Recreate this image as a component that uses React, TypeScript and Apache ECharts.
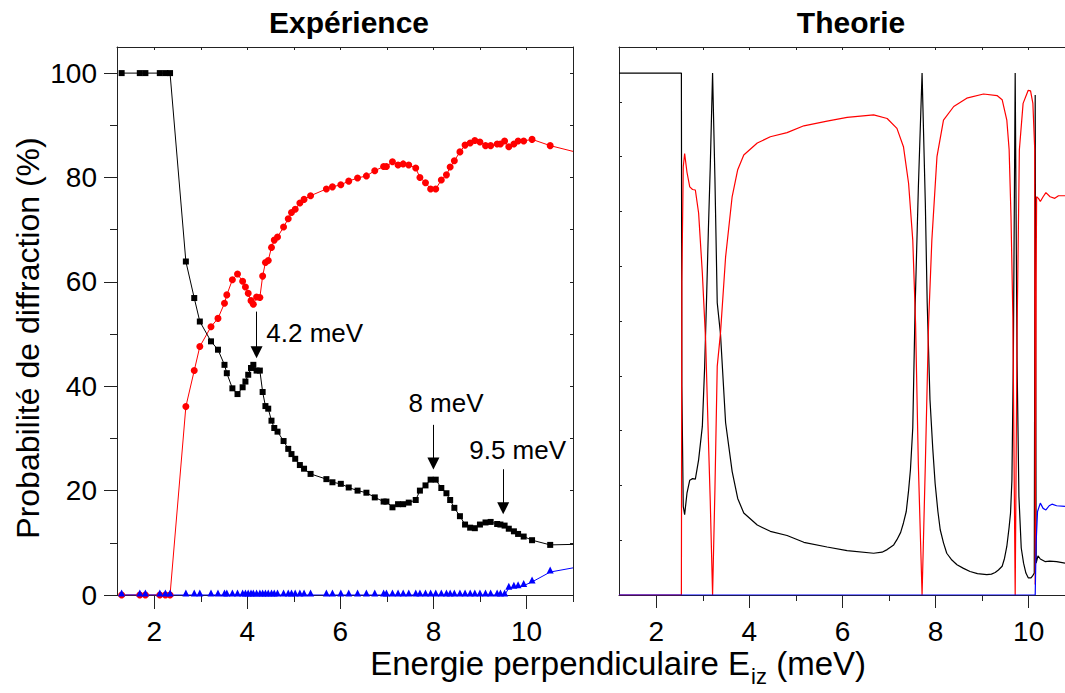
import React, { useEffect, useRef } from "react";
import * as echarts from "echarts";

// ---------- Experiment (left panel) ----------
const expX = [1.30,1.69,1.81,2.12,2.24,2.34,2.68,2.86,2.98,3.22,3.37,3.51,3.56,3.68,3.79,3.90,3.96,4.02,4.08,4.13,4.20,4.27,4.33,4.39,4.45,4.52,4.58,4.65,4.78,4.88,4.95,5.03,5.13,5.22,5.36,5.70,5.83,6.01,6.18,6.37,6.56,6.74,6.93,6.99,7.12,7.24,7.35,7.47,7.62,7.71,7.83,7.94,8.05,8.17,8.28,8.36,8.45,8.57,8.68,8.79,8.89,9.00,9.12,9.23,9.37,9.44,9.53,9.62,9.73,9.82,9.94,10.12,10.51];
const expSpecular = [100,100,100,100,100,100,63.9,56.9,52.4,48.6,47.0,44.1,42.5,39.6,38.5,39.8,40.9,42.2,43.5,44.1,43.0,43.0,38.9,36.2,35.7,33.4,32.0,31.3,29.5,28.0,27.0,26.1,24.9,24.2,23.2,22.2,21.6,21.3,20.6,20.0,19.6,18.7,17.9,17.9,16.8,17.4,17.4,17.7,18.2,20.0,21.0,22.1,22.1,20.5,19.5,18.2,16.7,15.1,13.5,12.9,12.8,13.5,13.9,14.0,13.6,13.5,13.3,12.7,12.2,11.7,11.2,10.5,9.6];
const expFirstOrder = [0,0,0,0,0,0,36.1,43.0,47.6,51.4,53.0,55.9,57.5,60.4,61.5,60.1,59.0,57.8,56.4,55.7,57.1,57.0,61.1,63.7,64.1,66.6,68.0,68.6,70.5,72.1,73.3,73.9,75.1,75.8,76.5,77.8,78.2,78.6,79.3,79.9,80.3,81.3,82.1,82.1,83.0,82.4,82.6,82.4,81.8,80.0,79.0,77.8,77.8,79.5,80.5,82.0,83.2,84.9,86.2,86.6,87.1,86.8,86.1,86.1,86.4,86.4,87.0,85.9,86.4,87.0,87.0,87.3,86.1];
const expSecondOrder = [0,0,0,0,0,0,0,0,0,0,0,0,0,0,0,0,0,0,0,0,0,0,0,0,0,0,0,0,0,0,0,0,0,0,0,0,0,0,0,0,0,0,0,0,0,0,0,0,0,0,0,0,0,0,0,0,0,0,0,0,0,0,0,0,0,0,0,1.3,1.5,1.6,1.8,2.5,4.4];
// line continuation to the right frame (no marker)
const expTailX = 11.0;
const expTailSpecular = 9.7;
const expTailFirst = 85.0;
const expTailSecond = 5.2;

// annotations (arrows) in data units
const arrowX = [4.2, 8.0, 9.5];
const arrowFrom = [54.3, 32.6, 24.1];
const arrowTo = [46.5, 25.2, 16.6];
const noteText = ["4.2 meV", "8 meV", "9.5 meV"];
const noteX = [5.45, 8.27, 9.81];
const noteY = [50.2, 36.8, 27.7];

// ---------- Theory (right panel) ----------
const thSpecX = [1.2,2.54,2.55,2.58,2.61,2.66,2.72,2.78,2.84,2.91,2.99,3.04,3.08,3.12,3.16,3.21,3.26,3.31,3.38,3.49,3.63,3.75,3.88,4.17,4.45,4.81,5.17,5.67,6.10,6.67,6.85,6.96,7.10,7.17,7.25,7.31,7.37,7.42,7.46,7.51,7.56,7.63,7.71,7.78,7.82,7.88,7.94,7.99,8.05,8.10,8.17,8.24,8.35,8.46,8.60,8.74,8.90,9.10,9.20,9.28,9.35,9.43,9.48,9.53,9.58,9.61,9.64,9.67,9.71,9.75,9.79,9.84,9.89,9.94,9.99,10.05,10.08,10.12,10.14,10.16,10.20,10.25,10.35,10.45,10.60,10.78];
const thSpecY = [100,100,40,17,15.4,19.5,22,22.3,22.2,25.9,32.3,43.8,56.5,70,82,100,80,56,50,33,23.7,18.5,15.7,13.4,12.2,11.4,10.1,9.2,8.5,8.0,8.2,8.7,9.6,10.6,12,13.8,16,20,24,32,55,78,100,75,56,37.4,28,21.4,16,12.5,10,8.0,6.7,5.8,5.1,4.5,4.1,3.9,4.0,4.3,4.8,5.5,7,9.3,13,15.7,22.1,45,100,45,18.9,9,6.1,4.2,3.3,3.3,3.6,4.2,95.8,6.1,7.5,6.9,6.4,6.5,6.4,6.1];
const thFirstX = [1.2,2.54,2.55,2.58,2.61,2.66,2.72,2.78,2.84,2.91,2.99,3.06,3.12,3.16,3.21,3.26,3.31,3.38,3.49,3.63,3.75,3.88,4.17,4.45,4.81,5.17,5.67,6.10,6.67,6.96,7.17,7.31,7.42,7.51,7.57,7.63,7.71,7.78,7.85,7.92,8.03,8.17,8.39,8.67,9.03,9.32,9.43,9.53,9.58,9.62,9.66,9.71,9.75,9.80,9.88,9.99,10.04,10.09,10.13,10.14,10.16,10.17,10.21,10.25,10.31,10.37,10.46,10.56,10.64,10.78];
const thFirstY = [0,0,60,82,84.6,81,78.2,77.7,77.6,73.2,61.7,48.9,30,18,0,20,43.8,50.2,64.8,76.3,81.5,84.3,86.6,87.8,88.6,89.9,90.8,91.5,92.0,91.3,89.4,85.9,78.9,68.0,52.1,25,0,25,52.1,68.0,84.0,91.0,93.6,95.2,96.0,95.7,94.9,91.0,85.3,72.5,53.4,0,50,85.3,94.2,96.7,96.6,94.2,85.3,2,60,76.3,76.0,75.4,76.3,77.1,76.3,76.0,76.5,76.5];
const thSecondX = [1.2,10.14,10.16,10.19,10.25,10.31,10.37,10.44,10.50,10.60,10.78];
const thSecondY = [0,0,10,16,17.6,16.6,16.3,17.1,17.4,17.1,17.0];

// ---------- ticks ----------
const xMajorTicks = [2, 4, 6, 8, 10];
const xMinorTicksLeft = [3, 5, 7, 9, 11];
const xMinorTicksRight = [3, 5, 7, 9];
const xAllTicksLeft = [2, 3, 4, 5, 6, 7, 8, 9, 10, 11];
const xAllTicksRight = [2, 3, 4, 5, 6, 7, 8, 9, 10];
const yMajorTicks = [0, 20, 40, 60, 80, 100];
const yMinorTicks = [10, 30, 50, 70, 90];
const yAllTicks = [0, 10, 20, 30, 40, 50, 60, 70, 80, 90, 100];
const yTheoryTicks = [0, 10.5, 21, 31.5, 42, 52.5, 63, 73.5, 84, 94.5];

const FONT = "'Liberation Sans', Arial, sans-serif";
const AX = { color: "#222", width: 1 };

function zip(xs: number[], ys: number[]) {
  return xs.map((x, i) => [x, ys[i]]);
}
function withTail(xs: number[], ys: number[], tx: number, ty: number) {
  const d: any[] = zip(xs, ys);
  d.push({ value: [tx, ty], symbol: "none" });
  return d;
}

export default function App() {
  const ref = useRef<HTMLDivElement>(null);
  useEffect(() => {
    if (!ref.current) return;
    const chart = echarts.init(ref.current, null, { renderer: "svg" });
    const gL = { left: 117, top: 47, width: 456, height: 548 };
    const gR = { left: 619, top: 47, width: 446, height: 548 };
    const xBase = (grid: number, max: number) => ({
      type: "value", gridIndex: grid, min: 1.2, max,
      splitLine: { show: false },
    });
    const yBase = (grid: number) => ({
      type: "value", gridIndex: grid, min: 0, max: 105,
      splitLine: { show: false },
    });
    const tickLabel = { fontSize: 28, color: "#000", fontFamily: FONT };
    const option: any = {
      animation: false,
      backgroundColor: "#fff",
      grid: [gL, gL, gR, gR],
      xAxis: [
        { ...xBase(0, 11), position: "bottom",
          axisLine: { show: true, onZero: false, lineStyle: AX },
          axisTick: { show: true, inside: false, length: 14, customValues: xMajorTicks, lineStyle: AX },
          axisLabel: { show: true, customValues: xMajorTicks, margin: 22, ...tickLabel } },
        { ...xBase(0, 11), position: "top",
          axisLine: { show: true, onZero: false, lineStyle: AX },
          axisTick: { show: true, inside: true, length: 3, customValues: xAllTicksLeft, lineStyle: AX },
          axisLabel: { show: false } },
        { ...xBase(1, 11), position: "bottom",
          axisLine: { show: false, onZero: false },
          axisTick: { show: true, inside: false, length: 7, customValues: xMinorTicksLeft, lineStyle: AX },
          axisLabel: { show: false } },
        { ...xBase(2, 10.78), position: "bottom",
          axisLine: { show: true, onZero: false, lineStyle: AX },
          axisTick: { show: true, inside: false, length: 13, customValues: xMajorTicks, lineStyle: AX },
          axisLabel: { show: true, customValues: xMajorTicks, margin: 22, ...tickLabel } },
        { ...xBase(2, 10.78), position: "top",
          axisLine: { show: true, onZero: false, lineStyle: AX },
          axisTick: { show: true, inside: true, length: 3, customValues: xAllTicksRight, lineStyle: AX },
          axisLabel: { show: false } },
        { ...xBase(3, 10.78), position: "bottom",
          axisLine: { show: false, onZero: false },
          axisTick: { show: true, inside: false, length: 6, customValues: xMinorTicksRight, lineStyle: AX },
          axisLabel: { show: false } },
      ],
      yAxis: [
        { ...yBase(0), position: "left",
          axisLine: { show: true, onZero: false, lineStyle: AX },
          axisTick: { show: true, inside: false, length: 13, customValues: yMajorTicks, lineStyle: AX },
          axisLabel: { show: true, customValues: yMajorTicks, margin: 20, ...tickLabel } },
        { ...yBase(0), position: "right",
          axisLine: { show: true, onZero: false, lineStyle: AX },
          axisTick: { show: true, inside: true, length: 3, customValues: yAllTicks, lineStyle: AX },
          axisLabel: { show: false } },
        { ...yBase(1), position: "left",
          axisLine: { show: false, onZero: false },
          axisTick: { show: true, inside: false, length: 7, customValues: yMinorTicks, lineStyle: AX },
          axisLabel: { show: false } },
        { ...yBase(2), position: "left",
          axisLine: { show: true, onZero: false, lineStyle: AX },
          axisTick: { show: true, inside: true, length: 3, customValues: yTheoryTicks, lineStyle: AX },
          axisLabel: { show: false } },
        { ...yBase(3), position: "left", show: false },
      ],
      series: [
        { name: "exp-first", type: "line", xAxisIndex: 0, yAxisIndex: 0,
          data: withTail(expX, expFirstOrder, expTailX, expTailFirst),
          symbol: "circle", symbolSize: 7, color: "#ff0000",
          itemStyle: { color: "#ff0000" }, lineStyle: { color: "#ff0000", width: 1 } },
        { name: "exp-specular", type: "line", xAxisIndex: 0, yAxisIndex: 0,
          data: withTail(expX, expSpecular, expTailX, expTailSpecular),
          symbol: "rect", symbolSize: 6, color: "#000",
          itemStyle: { color: "#000" }, lineStyle: { color: "#000", width: 1 },
          markLine: {
            silent: true, animation: false,
            symbol: ["none", "triangle"], symbolSize: 12,
            lineStyle: { color: "#000", width: 1, type: "solid" },
            itemStyle: { color: "#000" },
            label: { show: false },
            data: arrowX.map((x, i) => [{ coord: [x, arrowFrom[i]] }, { coord: [x, arrowTo[i]] }]),
          } },
        { name: "exp-second", type: "line", xAxisIndex: 0, yAxisIndex: 0,
          data: withTail(expX, expSecondOrder, expTailX, expTailSecond),
          symbol: "triangle", symbolSize: 7, symbolOffset: [0, -2], color: "#0000ff",
          itemStyle: { color: "#0000ff" }, lineStyle: { color: "#0000ff", width: 1 } },
        { name: "notes", type: "scatter", xAxisIndex: 0, yAxisIndex: 0,
          data: noteText.map((t, i) => ({ name: t, value: [noteX[i], noteY[i]] })),
          symbolSize: 1, itemStyle: { color: "rgba(0,0,0,0)", opacity: 1 },
          label: { show: true, position: "inside", formatter: "{b}", fontSize: 26, color: "#000", opacity: 1, fontFamily: FONT } },
        { name: "th-specular", type: "line", xAxisIndex: 3, yAxisIndex: 3,
          data: zip(thSpecX, thSpecY), symbol: "none",
          lineStyle: { color: "#000", width: 1.2 } },
        { name: "th-first", type: "line", xAxisIndex: 3, yAxisIndex: 3,
          data: zip(thFirstX, thFirstY), symbol: "none",
          lineStyle: { color: "#ff0000", width: 1.2 } },
        { name: "th-second", type: "line", xAxisIndex: 3, yAxisIndex: 3,
          data: zip(thSecondX, thSecondY), symbol: "none",
          lineStyle: { color: "#0000ff", width: 1.2 } },
      ],
      graphic: [
        { type: "text", x: 349, y: 22, style: { text: "Expérience", font: `bold 30px ${FONT}`, fill: "#000", align: "center", verticalAlign: "middle" } },
        { type: "text", x: 851, y: 22, style: { text: "Theorie", font: `bold 30px ${FONT}`, fill: "#000", align: "center", verticalAlign: "middle" } },
        { type: "text", x: 28, y: 338, rotation: Math.PI / 2,
          style: { text: "Probabilité de diffraction (%)", font: `32px ${FONT}`, fill: "#000", align: "center", verticalAlign: "middle" } },
        { type: "text", x: 750, y: 663,
          style: { text: "Energie perpendiculaire E", font: `33px ${FONT}`, fill: "#000", align: "right", verticalAlign: "middle" } },
        { type: "text", x: 751, y: 676,
          style: { text: "iz", font: `22px ${FONT}`, fill: "#000", align: "left", verticalAlign: "middle" } },
        { type: "text", x: 767, y: 663,
          style: { text: " (meV)", font: `33px ${FONT}`, fill: "#000", align: "left", verticalAlign: "middle" } },
      ],
    };
    chart.setOption(option);
    return () => chart.dispose();
  }, []);
  return (
    <div
      ref={ref}
      style={{ position: "absolute", left: 0, top: 0, width: 1065, height: 693, background: "#fff" }}
    />
  );
}
